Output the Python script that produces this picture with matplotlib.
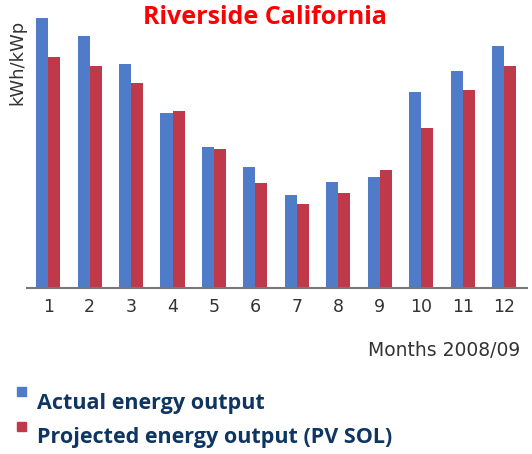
import matplotlib.pyplot as plt
import numpy as np

months = [str(m) for m in range(1, 13)]
actual = [270, 252, 224, 175, 141, 121, 93, 106, 111, 196, 217, 242]
projected = [231, 222, 205, 177, 139, 105, 84, 95, 118, 160, 198, 222]

BLUE = "#4f7bc8"
RED = "#c0394b"
NAVY = "#0f3562"
GREY = "#333333"

fig = plt.figure(figsize=(5.32, 4.54), dpi=100)
W, H = 532, 454
ax = fig.add_axes([27 / W, 1 - 288 / H, 500 / W, 288 / H])

x = np.arange(1, 13)
bw = 0.29
ax.bar(x - bw / 2, actual, width=bw, color=BLUE)
ax.bar(x + bw / 2, projected, width=bw, color=RED)

ax.set_xlim(0.49, 12.55)
ax.set_ylim(0, 288)
ax.set_xticks(x)
ax.set_xticklabels(months, fontsize=12.5, color=GREY)
ax.tick_params(axis="x", length=0, pad=7)
ax.set_yticks([])
for side in ["top", "right", "left"]:
    ax.spines[side].set_visible(False)
ax.spines["bottom"].set_color("#777777")
ax.spines["bottom"].set_linewidth(1.5)

fig.text(17 / W, 1 - 62 / H, "kWh/kWp", rotation=90, ha="center", va="center",
         fontsize=13, color=GREY)
fig.text(520 / W, 1 - 350 / H, "Months 2008/09", ha="right", va="center",
         fontsize=13.5, color=GREY)
fig.text(265 / W, 1 - 17 / H, "Riverside California", ha="center", va="center",
         fontsize=18, fontweight="bold", color="#ff0000", family="Open Sans")

# legend
for y_sq, col, y_txt, label in [(392, BLUE, 403, "Actual energy output"),
                                (427, RED, 437, "Projected energy output (PV SOL)")]:
    fig.patches.append(plt.Rectangle((17 / W, 1 - (y_sq + 4) / H), 9 / W, 9 / H,
                                     transform=fig.transFigure, color=col))
    fig.text(37 / W, 1 - y_txt / H, label, ha="left", va="center",
             fontsize=15.5, fontweight="bold", color=NAVY, family="Open Sans")

fig.savefig("out.png", dpi=100)
